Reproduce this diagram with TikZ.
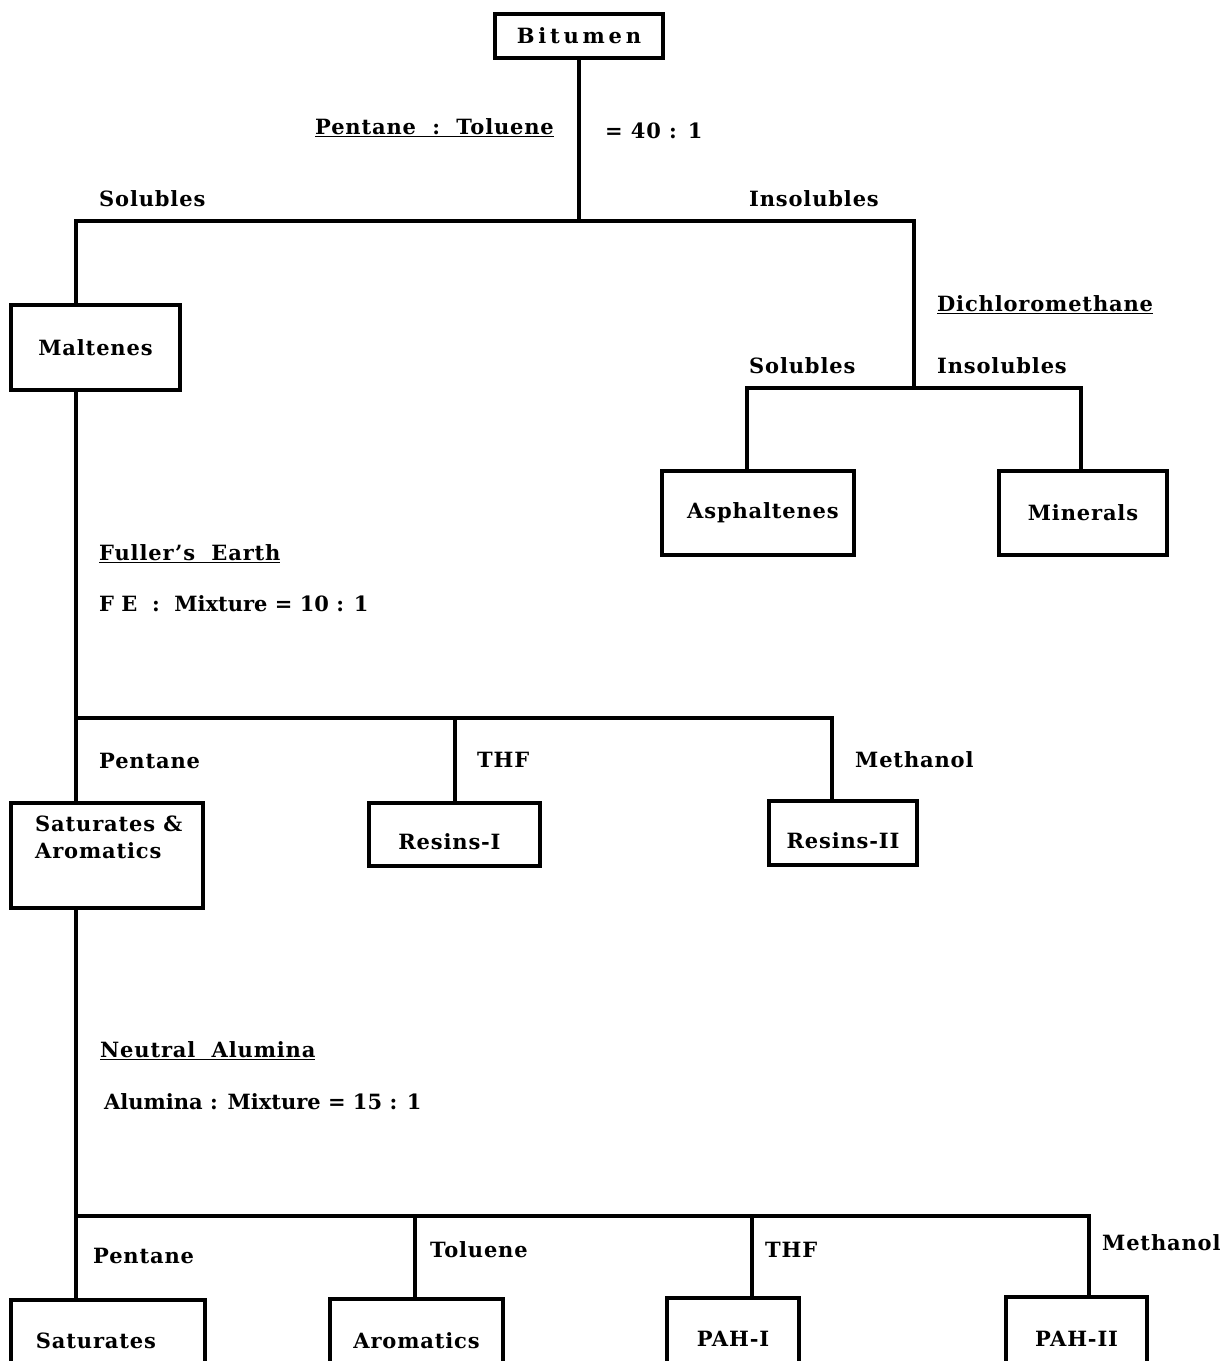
\documentclass[tikz,border=0pt]{standalone}
\usepackage{fontspec}
\setmainfont{DejaVu Serif}[LetterSpace=4]
\begin{document}
\begin{tikzpicture}[x=1pt,y=-1pt,
  font=\fontsize{21}{25}\selectfont\bfseries,
  box/.style={draw,line width=3.2pt,inner sep=0pt},
  low/.style={text height=30pt,text depth=0pt},
  lab/.style={anchor=west,inner sep=0pt},
  ln/.style={line width=3.2pt}]
\useasboundingbox (0,0) rectangle (1227,1361);
\clip (0,0) rectangle (1227,1361);
% boxes
\node[box,minimum width=168,minimum height=44] (bit) at (579,36) {\addfontfeatures{LetterSpace=18}Bitumen};
\node[box,minimum width=169,minimum height=85] (mal) at (95.5,347.5) {Maltenes};
\node[box,minimum width=192,minimum height=84] (asp) at (758,513) {\hspace{10pt}Asphaltenes};
\node[box,minimum width=168,minimum height=84] (min) at (1083,513) {Minerals};
\node[box,minimum width=192,minimum height=105] (sa) at (107,855.5) {};
\node[lab,align=left,anchor=north west] (satxt) at (35,816) {Saturates \&\\[2pt]Aromatics};
\node[box,low,minimum width=171,minimum height=63] (r1) at (454.5,834.5) {Resins-I\kern10pt};
\node[box,low,minimum width=148,minimum height=64] (r2) at (843,833) {Resins-II};
\node[box,minimum width=194,minimum height=82] (sat) at (108,1341) {Saturates\kern24pt};
\node[box,minimum width=173,minimum height=84] (aro) at (416.5,1341) {Aromatics};
\node[box,minimum width=132,minimum height=82] (pah1) at (733,1339) {PAH-I};
\node[box,minimum width=141,minimum height=84] (pah2) at (1076.5,1339) {PAH-II};
% junctions
\coordinate (j1) at (579,221);
\coordinate (j1L) at (76,221);
\coordinate (j1R) at (914,221);
\coordinate (j2) at (914,388);
\coordinate (j2L) at (747,388);
\coordinate (j2R) at (1081,388);
\coordinate (j3L) at (76,718);
\coordinate (j3M) at (455,718);
\coordinate (j3R) at (832,718);
\coordinate (j4L) at (76,1216);
\coordinate (j4A) at (415,1216);
\coordinate (j4B) at (752,1216);
\coordinate (j4R) at (1089,1216);
% connectors
\draw[ln] (bit.south -| j1) -- (j1);
\draw[ln,line cap=rect] (j1L) -- (j1R);
\draw[ln] (j1L) -- (mal.north -| j1L);
\draw[ln] (j1R) -- (j2);
\draw[ln,line cap=rect] (j2L) -- (j2R);
\draw[ln] (j2L) -- (asp.north -| j2L);
\draw[ln] (j2R) -- (min.north -| j2R);
\draw[ln] (mal.south -| j3L) -- (sa.north -| j3L);
\draw[ln,line cap=rect] (j3L) -- (j3R);
\draw[ln] (j3M) -- (r1.north -| j3M);
\draw[ln] (j3R) -- (r2.north -| j3R);
\draw[ln] (sa.south -| j4L) -- (sat.north -| j4L);
\draw[ln,line cap=rect] (j4L) -- (j4R);
\draw[ln] (j4A) -- (aro.north -| j4A);
\draw[ln] (j4B) -- (pah1.north -| j4B);
\draw[ln] (j4R) -- (pah2.north -| j4R);
% labels
\node[lab] (pt) at (315,128) {\underline{Pentane\ \ :\ \ Toluene}};
\node[lab] (ratio1) at (605,131) {=\ 40 : 1};
\node[lab] (sol1) at (99,199) {Solubles};
\node[lab] (ins1) at (749,199) {Insolubles};
\node[lab] (dcm) at (937,305) {\underline{Dichloromethane}};
\node[lab] (sol2) at (749,366) {Solubles};
\node[lab] (ins2) at (937,366) {Insolubles};
\node[lab] (fe) at (99,554) {\underline{Fuller's\ \ Earth}};
\node[lab] (fer) at (99,604) {\addfontfeatures{LetterSpace=0}F E\ \ :\ \ Mixture = 10 : 1};
\node[lab] (pen1) at (99,761) {Pentane};
\node[lab] (thf1) at (477,760) {THF};
\node[lab] (met1) at (855,760) {Methanol};
\node[lab] (na) at (100,1051) {\underline{Neutral\ \ Alumina}};
\node[lab] (nar) at (104,1102) {\addfontfeatures{LetterSpace=0}Alumina : Mixture = 15 : 1};
\node[lab] (pen2) at (93,1256) {Pentane};
\node[lab] (tol2) at (430,1250) {Toluene};
\node[lab] (thf2) at (765,1250) {THF};
\node[lab] (met2) at (1102,1243) {Methanol};
\end{tikzpicture}
\end{document}
